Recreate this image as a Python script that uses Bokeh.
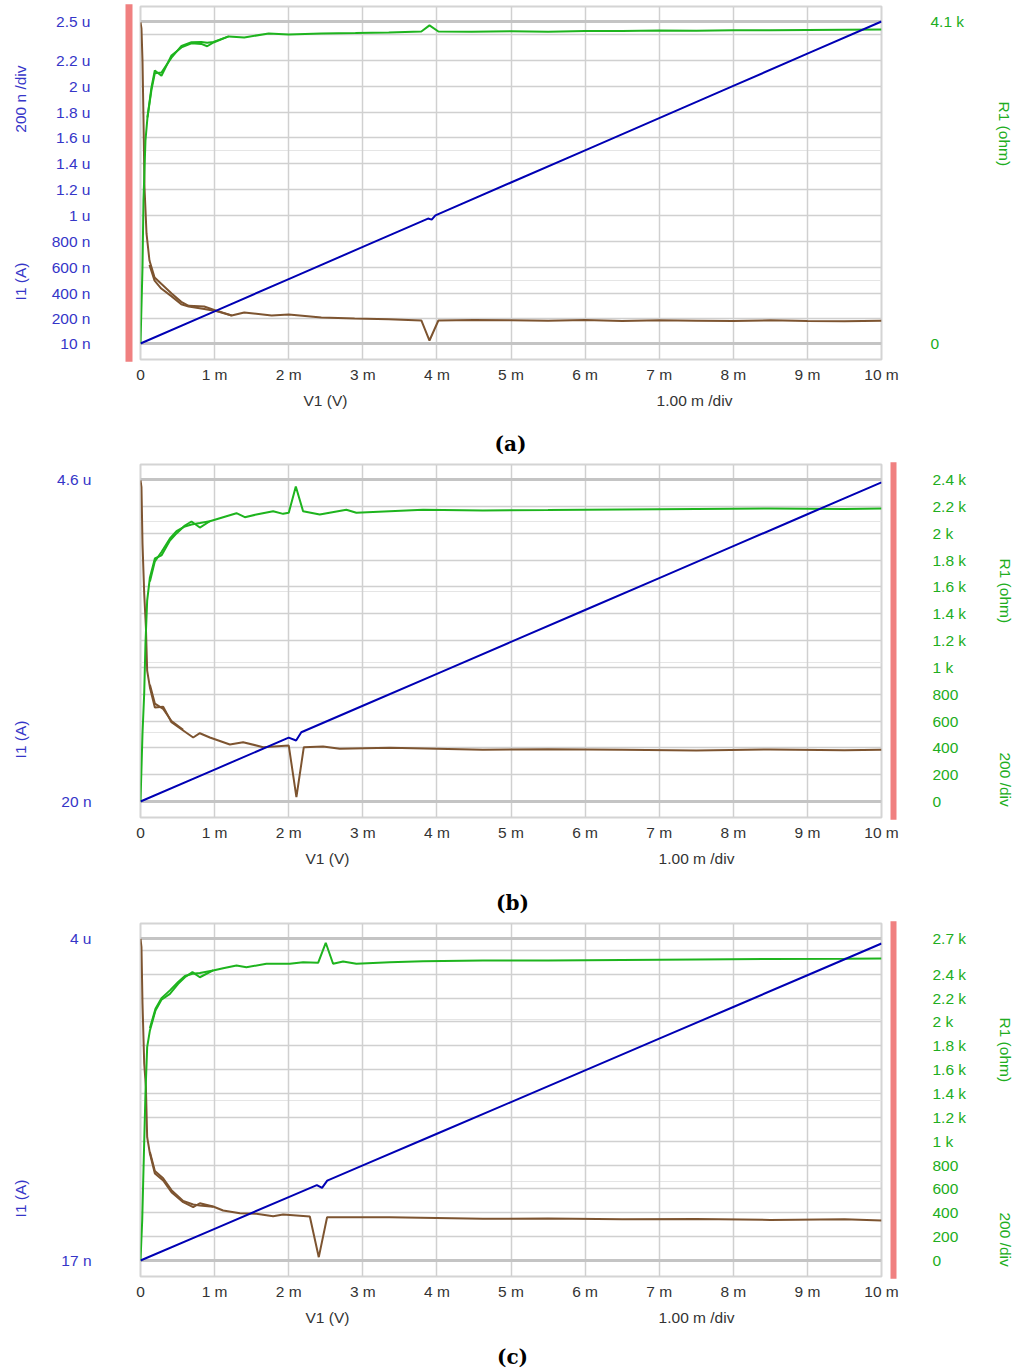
import math
import numpy as np
from bokeh.plotting import figure
from bokeh.models import Range1d, LinearAxis, FixedTicker, Grid
from bokeh.layouts import column
from bokeh.embed import file_html
from bokeh.resources import INLINE

# ---------------- data (x in mV, current in nA, resistance in ohm) ----------------
x_ticks = [0, 1, 2, 3, 4, 5, 6, 7, 8, 9, 10]
x_tick_labels = ["0", "1 m", "2 m", "3 m", "4 m", "5 m", "6 m", "7 m", "8 m", "9 m", "10 m"]

# panel (a)
a_i_ticks = [10, 200, 400, 600, 800, 1000, 1200, 1400, 1600, 1800, 2000, 2200, 2500]
a_i_labels = ["10 n", "200 n", "400 n", "600 n", "800 n", "1 u", "1.2 u", "1.4 u",
              "1.6 u", "1.8 u", "2 u", "2.2 u", "2.5 u"]
a_r_ticks = [0, 4100]
a_r_labels = ["0", "4.1 k"]
a_grid = [200, 400, 600, 800, 1000, 1200, 1400, 1600, 1800, 2000, 2200, 2400]

a_blue_v = [0, 1, 2, 3, 3.88, 3.93, 3.98, 5, 6, 7, 8, 9, 10]
a_blue_i = [10, 259, 508, 757, 976, 968, 1001, 1255, 1504, 1753, 2002, 2251, 2500]

a_green_v = [0, 0.027, 0.040, 0.067, 0.094, 0.148, 0.193, 0.283, 0.418, 0.553, 0.688, 0.82, 0.90,
             0.985, 1.19, 1.40, 1.73, 2.00, 2.44, 2.90, 3.35, 3.79, 3.90, 4.02, 4.47, 5.0, 5.5,
             6.0, 6.5, 7.0, 7.5, 8.0, 8.5, 9.0, 9.5, 10.0]
a_green_r = [0, 968, 1821, 2585, 2878, 3260, 3476, 3410, 3667, 3770, 3823, 3815, 3785,
             3833, 3910, 3897, 3947, 3935, 3947, 3952, 3960, 3973, 4050, 3973, 3968, 3975, 3970,
             3980, 3978, 3985, 3982, 3990, 3988, 3992, 3995, 3998]
a_green2_v = [0.094, 0.148, 0.193, 0.283, 0.418, 0.553, 0.688, 0.82, 0.90, 0.985, 1.19]
a_green2_r = [2878, 3230, 3440, 3450, 3640, 3790, 3835, 3840, 3830, 3840, 3910]

a_brown_v = [0, 0.013, 0.027, 0.040, 0.054, 0.081, 0.121, 0.19, 0.28, 0.42, 0.55, 0.65, 0.86,
             1.09, 1.23, 1.40, 1.77, 2.0, 2.44, 2.89, 3.35, 3.79, 3.90, 4.02, 4.5, 5.0, 5.5,
             6.0, 6.5, 7.0, 7.5, 8.0, 8.5, 9.0, 9.5, 10.0]
a_brown_r = [4087, 4011, 3603, 2878, 1986, 1401, 1057, 840, 760, 637, 530, 480, 471,
             395, 357, 395, 357, 369, 331, 318, 310, 293, 38, 293, 300, 295, 290,
             300, 288, 295, 290, 285, 295, 288, 282, 290]
a_brown2_v = [0.121, 0.19, 0.28, 0.42, 0.55, 0.65, 0.86, 1.09, 1.23]
a_brown2_r = [1000, 800, 700, 600, 500, 470, 440, 400, 357]

# panel (b)
b_i_ticks = [20, 4600]
b_i_labels = ["20 n", "4.6 u"]
b_r_ticks = [0, 200, 400, 600, 800, 1000, 1200, 1400, 1600, 1800, 2000, 2200, 2400]
b_r_labels = ["0", "200", "400", "600", "800", "1 k", "1.2 k", "1.4 k", "1.6 k", "1.8 k",
              "2 k", "2.2 k", "2.4 k"]
b_grid = [200, 400, 600, 800, 1000, 1200, 1400, 1600, 1800, 2000, 2200]

b_blue_v = [0, 1, 2.0, 2.1, 2.17, 3, 4, 5, 6, 7, 8, 9, 10]
b_blue_i = [20, 474, 928, 888, 1005, 1382, 1836, 2290, 2744, 3198, 3652, 4106, 4560]

b_green_v = [0, 0.027, 0.050, 0.067, 0.090, 0.127, 0.194, 0.283, 0.397, 0.486, 0.599, 0.688,
             0.801, 0.936, 1.115, 1.295, 1.408, 1.564, 1.790, 1.925, 2.001, 2.096, 2.194,
             2.419, 2.778, 2.913, 3.363, 3.813, 4.622, 5.5, 6.5, 7.5, 8.5, 9.5, 10.0]
b_green_r = [0, 507, 805, 1178, 1498, 1670, 1811, 1834, 1945, 1998, 2057, 2087,
             2042, 2089, 2119, 2149, 2119, 2139, 2164, 2144, 2152, 2348, 2164,
             2139, 2174, 2152, 2164, 2174, 2169, 2172, 2176, 2180, 2184, 2180, 2184]
b_green2_v = [0.127, 0.194, 0.283, 0.397, 0.486, 0.599, 0.688, 0.801, 0.936]
b_green2_r = [1640, 1790, 1860, 1960, 2015, 2050, 2065, 2075, 2089]

b_brown_v = [0, 0.013, 0.027, 0.050, 0.073, 0.090, 0.127, 0.194, 0.306, 0.418, 0.576, 0.711,
             0.801, 0.936, 1.206, 1.385, 1.655, 2.001, 2.104, 2.204, 2.464, 2.689, 3.363,
             4.622, 5.5, 6.5, 7.5, 8.5, 9.5, 10.0]
b_brown_r = [2393, 2343, 1923, 1550, 1297, 976, 850, 701, 707, 591, 529, 477,
             509, 477, 425, 442, 405, 417, 32, 405, 410, 393, 400,
             385, 390, 385, 380, 388, 382, 385]
b_brown2_v = [0.127, 0.194, 0.306, 0.418, 0.576]
b_brown2_r = [870, 730, 690, 600, 535]

# panel (c)
c_i_ticks = [17, 4000]
c_i_labels = ["17 n", "4 u"]
c_r_ticks = [0, 200, 400, 600, 800, 1000, 1200, 1400, 1600, 1800, 2000, 2200, 2400, 2700]
c_r_labels = ["0", "200", "400", "600", "800", "1 k", "1.2 k", "1.4 k", "1.6 k", "1.8 k",
              "2 k", "2.2 k", "2.4 k", "2.7 k"]
c_grid = [200, 400, 600, 800, 1000, 1200, 1400, 1600, 1800, 2000, 2200, 2400, 2600]

c_blue_v = [0, 1, 2, 2.38, 2.45, 2.52, 3, 4, 5, 6, 7, 8, 9, 10]
c_blue_i = [17, 409, 801, 950, 915, 1005, 1193, 1585, 1977, 2369, 2761, 3153, 3545, 3938]

c_green_v = [0, 0.023, 0.046, 0.067, 0.090, 0.127, 0.202, 0.283, 0.397, 0.508, 0.599, 0.701,
             0.801, 0.980, 1.115, 1.295, 1.430, 1.699, 2.015, 2.194, 2.397, 2.500, 2.599,
             2.734, 2.913, 3.363, 3.813, 4.622, 5.5, 6.5, 7.5, 8.5, 9.5, 10.0]
c_green_r = [0, 335, 897, 1400, 1789, 1929, 2096, 2186, 2236, 2320, 2375, 2418,
             2375, 2432, 2451, 2474, 2459, 2488, 2488, 2501, 2496, 2664, 2488,
             2507, 2488, 2501, 2510, 2516, 2516, 2520, 2524, 2528, 2530, 2532]
c_green2_v = [0.127, 0.202, 0.283, 0.397, 0.508, 0.599, 0.701, 0.801, 0.980]
c_green2_r = [1950, 2110, 2200, 2265, 2335, 2385, 2405, 2410, 2432]

c_brown_v = [0, 0.013, 0.027, 0.050, 0.073, 0.090, 0.127, 0.194, 0.306, 0.418, 0.576, 0.711,
             0.801, 0.980, 1.115, 1.341, 1.564, 1.790, 1.925, 2.285, 2.406, 2.518, 2.824,
             3.363, 4.622, 5.5, 6.5, 7.5, 8.5, 9.5, 10.0]
c_brown_r = [2697, 2627, 2155, 1652, 1453, 1034, 897, 730, 671, 573, 489, 447,
             480, 453, 419, 397, 392, 371, 386, 369, 28, 363, 363,
             363, 350, 352, 345, 348, 340, 345, 335]
c_brown2_v = [0.127, 0.194, 0.306, 0.418, 0.576, 0.711, 0.801, 0.980]
c_brown2_r = [910, 750, 690, 590, 500, 470, 462, 450]

# ---------------- styling ----------------
FONT = "Liberation Sans"
FS = "15.5px"
CAP_FONT = "DejaVu Serif"
CAP_FS = "20px"
FW, FH = 741, 353
BLUE_LINE = "#0000b4"
GREEN_LINE = "#1eb41e"
BROWN_LINE = "#7d5430"
BLUE_TXT = "#3535c8"
GREEN_TXT = "#20ad20"
X_TXT = "#333333"
GRID_C = "#d0d0d0"
EDGE_C = "#c4c4c4"
PINK = "#f08080"


def pad_range(lo, hi):
    span = hi - lo
    return Range1d(lo - span * 16 / 322, hi + span * 15 / 322)


def clean(ax, color, standoff, size=FS, font=FONT, style="normal", orient=None):
    ax.axis_line_color = None
    ax.major_tick_line_color = None
    ax.minor_tick_line_color = None
    ax.major_tick_out = 0
    ax.major_tick_in = 0
    ax.major_label_text_font = font
    ax.major_label_text_font_size = size
    ax.major_label_text_font_style = style
    ax.major_label_text_color = color
    ax.major_label_standoff = int(round(standoff))
    if orient is not None:
        ax.major_label_orientation = orient
    return ax


def text_axis(ticks, labels, color, standoff, rng=None, **kw):
    args = {} if rng is None else {"y_range_name": rng}
    ax = LinearAxis(ticker=FixedTicker(ticks=ticks),
                    major_label_overrides=dict(zip(ticks, labels)), **args)
    return clean(ax, color, standoff, **kw)


def bar_axis(rng_obj, tin, tout, rng=None):
    # the pink marker bar beside the frame, drawn as a dense row of long ticks
    ticks = [float(v) for v in np.linspace(rng_obj.start, rng_obj.end, 110)]
    args = {} if rng is None else {"y_range_name": rng}
    ax = LinearAxis(ticker=FixedTicker(ticks=ticks), **args)
    ax.axis_line_color = None
    ax.minor_tick_line_color = None
    ax.major_tick_line_color = PINK
    ax.major_tick_line_width = 4.5
    ax.major_tick_in = tin
    ax.major_tick_out = tout
    ax.major_label_text_color = None
    ax.major_label_text_font_size = "0px"
    ax.major_label_standoff = 0
    return ax


def build(cfg):
    ml, mt, mb, top = cfg["ml"], cfg["mt"], cfg["mb"], cfg["top"]
    mr = 1017 - ml - FW
    pxm = FW / 10.0
    fb = top + mt + FH          # frame bottom (page px)
    base = fb - 16              # page px of the lower data limit

    i_rng = pad_range(*cfg["i_lim"])
    r_rng = pad_range(*cfg["r_lim"])
    p = figure(frame_width=FW, frame_height=FH,
               min_border_left=ml, min_border_right=mr,
               min_border_top=mt, min_border_bottom=mb,
               x_range=Range1d(0, 10), y_range=i_rng,
               x_axis_location=None, y_axis_location=None,
               output_backend="svg", toolbar_location=None,
               background_fill_color="white", border_fill_color="white",
               outline_line_color="#d4d4d4", outline_line_width=2)
    p.extra_y_ranges = {"r": r_rng}

    gkw = {} if cfg["grid_rng"] == "default" else {"y_range_name": cfg["grid_rng"]}
    p.add_layout(Grid(dimension=0, ticker=FixedTicker(ticks=x_ticks[1:-1]),
                      grid_line_color=GRID_C, grid_line_width=1.5))
    p.add_layout(Grid(dimension=1, ticker=FixedTicker(ticks=cfg["grid"]),
                      grid_line_color=GRID_C, grid_line_width=1.5, **gkw))
    p.add_layout(Grid(dimension=1, ticker=FixedTicker(ticks=cfg["edges"]),
                      grid_line_color=EDGE_C, grid_line_width=3, **gkw))

    def yval(py, lim):
        lo, hi = lim
        return lo + (base - py) / 322 * (hi - lo)

    def xval(px):
        return (px - ml) / pxm

    # ---- bottom: tick labels, axis names, caption
    xa = text_axis(x_ticks, x_tick_labels, X_TXT, cfg["sx1"])
    xn = text_axis([xval(324), xval(693)], ["V1 (V)", "1.00 m /div"], X_TXT, cfg["sx2"])
    cap = text_axis([xval(509)], [cfg["cap"]], "#000000", cfg["sx3"],
                    size=CAP_FS, font=CAP_FONT, style="bold")
    p.below = [xa, xn, cap]

    # ---- left side
    left = []
    if cfg["bar_side"] == "left":
        left.append(bar_axis(i_rng, -8, 15))
    left.append(text_axis(cfg["i_ticks"], cfg["i_labels"], BLUE_TXT, cfg["sl"]))
    lt = cfg["left_titles"]
    left.append(text_axis([yval(py, cfg["i_lim"]) for py, _ in lt], [t for _, t in lt],
                          BLUE_TXT, cfg["slt"], orient=math.pi / 2))
    p.left = left

    # ---- right side
    right = []
    if cfg["bar_side"] == "right":
        right.append(bar_axis(r_rng, -9, 15, rng="r"))
    right.append(text_axis(cfg["r_ticks"], cfg["r_labels"], GREEN_TXT, cfg["sr"], rng="r"))
    rt = cfg["right_titles"]
    right.append(text_axis([yval(py, cfg["r_lim"]) for py, _ in rt], [t for _, t in rt],
                           GREEN_TXT, cfg["srt"], rng="r", orient=-math.pi / 2))
    p.right = right

    # ---- curves
    for xs, ys in cfg["brown"]:
        p.line(xs, ys, line_color=BROWN_LINE, line_width=2, y_range_name="r")
    for xs, ys in cfg["green"]:
        p.line(xs, ys, line_color=GREEN_LINE, line_width=2, y_range_name="r")
    p.line(cfg["blue"][0], cfg["blue"][1], line_color=BLUE_LINE, line_width=2)
    return p


pa = build(dict(
    top=0, ml=139, mt=6, mb=99,
    i_lim=(10, 2500), r_lim=(0, 4100),
    i_ticks=a_i_ticks, i_labels=a_i_labels, r_ticks=a_r_ticks, r_labels=a_r_labels,
    grid=a_grid, edges=[10, 2500], grid_rng="default",
    blue=(a_blue_v, a_blue_i),
    green=[(a_green_v, a_green_r), (a_green2_v, a_green2_r)],
    brown=[(a_brown_v, a_brown_r), (a_brown2_v, a_brown2_r)],
    bar_side="left",
    left_titles=[(65, "200 n /div"), (262, "I1 (A)")],
    right_titles=[(101, "R1 (ohm)")],
    sl=35, slt=28, sr=49, srt=37,
    sx1=6, sx2=6, sx3=20, cap="(a)",
))

pb = build(dict(
    top=458, ml=137, mt=6, mb=103,
    i_lim=(20, 4600), r_lim=(0, 2400),
    i_ticks=b_i_ticks, i_labels=b_i_labels, r_ticks=b_r_ticks, r_labels=b_r_labels,
    grid=b_grid, edges=[0, 2400], grid_rng="r",
    blue=(b_blue_v, b_blue_i),
    green=[(b_green_v, b_green_r), (b_green2_v, b_green2_r)],
    brown=[(b_brown_v, b_brown_r), (b_brown2_v, b_brown2_r)],
    bar_side="right",
    left_titles=[(720, "I1 (A)")],
    right_titles=[(558, "R1 (ohm)"), (752, "200 /div")],
    sl=49, slt=34, sr=36, srt=36,
    sx1=6, sx2=6, sx3=21, cap="(b)",
))

pc = build(dict(
    top=920, ml=137, mt=3, mb=94,
    i_lim=(17, 4000), r_lim=(0, 2700),
    i_ticks=c_i_ticks, i_labels=c_i_labels, r_ticks=c_r_ticks, r_labels=c_r_labels,
    grid=c_grid, edges=[0, 2700], grid_rng="r",
    blue=(c_blue_v, c_blue_i),
    green=[(c_green_v, c_green_r), (c_green2_v, c_green2_r)],
    brown=[(c_brown_v, c_brown_r), (c_brown2_v, c_brown2_r)],
    bar_side="right",
    left_titles=[(1179, "I1 (A)")],
    right_titles=[(1017, "R1 (ohm)"), (1212, "200 /div")],
    sl=49, slt=38, sr=36, srt=36,
    sx1=6, sx2=6, sx3=16, cap="(c)",
))

layout = column(pa, pb, pc, spacing=0)
open("out.html", "w").write(file_html(layout, INLINE))
